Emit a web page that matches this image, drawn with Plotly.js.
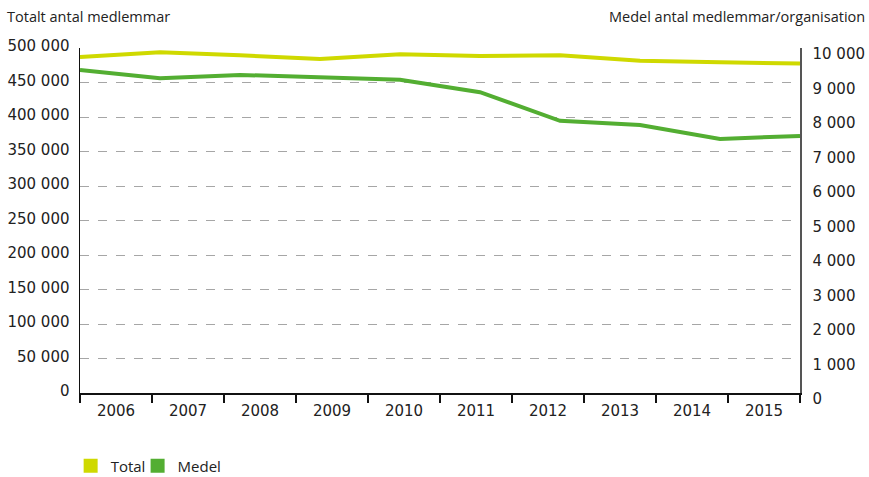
<!DOCTYPE html>
<html>
<head>
<meta charset="utf-8">
<script src="https://cdn.plot.ly/plotly-3.0.1.min.js"></script>
<style>
  html, body { margin: 0; padding: 0; background: #fff; }
  #chart { width: 869px; height: 477px; }
</style>
</head>
<body>
<div id="chart"></div>
<script>
const years = [2006, 2007, 2008, 2009, 2010, 2011, 2012, 2013, 2014, 2015];
const totalMembers = [487000, 494000, 489500, 484000, 491000, 488500, 489500, 481500, 479300, 477500];
const avgMembers = [9360, 9125, 9220, 9145, 9080, 8720, 7890, 7770, 7365, 7450];
const seriesNames = ['Total', 'Medel'];
const leftTitle = 'Totalt antal medlemmar';
const rightTitle = 'Medel antal medlemmar/organisation';

const yellow = '#cfd900';
const green = '#53ae32';
const FONT = 'Open Sans, sans-serif';
const TICKFONT = 'DejaVu Sans, sans-serif';
const txt = '#222';

const n = years.length;
const span = years[n - 1] - years[0];
const band = span / n;
const centers = years.map((y, i) => years[0] + (i + 0.5) * band);
const bounds = Array.from({length: n + 1}, (_, i) => years[0] + i * band);

const traces = [
  { x: years, y: totalMembers, type: 'scatter', mode: 'lines', name: seriesNames[0],
    line: {color: yellow, width: 4}, yaxis: 'y', showlegend: false, hoverinfo: 'skip' },
  { x: years, y: avgMembers, type: 'scatter', mode: 'lines', name: seriesNames[1],
    line: {color: green, width: 4}, yaxis: 'y2', showlegend: false, hoverinfo: 'skip' },
  { x: [null], y: [null], type: 'scatter', mode: 'markers', name: seriesNames[0],
    marker: {symbol: 'square', size: 14, color: yellow}, showlegend: true, legend: 'legend' },
  { x: [null], y: [null], type: 'scatter', mode: 'markers', name: seriesNames[1],
    marker: {symbol: 'square', size: 14, color: green}, showlegend: true, legend: 'legend2' }
];

const legendBase = {orientation: 'h', xanchor: 'left', xref: 'paper',
  yref: 'container', y: 0.023, yanchor: 'middle', itemwidth: 30,
  bgcolor: 'rgba(0,0,0,0)', font: {family: FONT, size: 15, color: txt}};

const layout = {
  width: 869, height: 477,
  margin: {l: 80, r: 69, t: 48, b: 84},
  paper_bgcolor: '#fff', plot_bgcolor: '#fff',
  separators: ', ',
  font: {family: FONT, size: 15, color: txt},
  showlegend: true,
  legend: Object.assign({}, legendBase, {x: -0.013}),
  legend2: Object.assign({}, legendBase, {x: 0.08}),
  xaxis: {
    type: 'linear', range: [years[0], years[n - 1]],
    tickmode: 'array', tickvals: centers, ticktext: years.map(String),
    ticks: '', showgrid: false, zeroline: false,
    showline: true, linecolor: '#111', linewidth: 1.5,
    ticklabelstandoff: 3,
    tickfont: {family: TICKFONT, size: 15, color: txt},
    minor: {tickmode: 'array', tickvals: bounds, ticks: 'outside', ticklen: 8,
            tickcolor: '#111', tickwidth: 1.5, showgrid: false}
  },
  yaxis: {
    range: [0, 500000], dtick: 50000, tick0: 0, tickformat: ',d',
    showgrid: true, gridcolor: '#a6a6a6', griddash: 'dash', gridwidth: 1,
    zeroline: false, showline: true, linecolor: '#111', linewidth: 1.5,
    ticks: '', ticklabelstandoff: 6, ticklabelshift: -2,
    tickfont: {family: TICKFONT, size: 15, color: txt}
  },
  yaxis2: {
    overlaying: 'y', side: 'right',
    range: [0, 10000], dtick: 1000, tick0: 0, tickformat: ',d',
    showgrid: false, zeroline: false, showline: true, linecolor: '#555', linewidth: 1.5,
    ticks: '', ticklabelstandoff: 8, ticklabelshift: 6,
    tickfont: {family: TICKFONT, size: 15, color: txt}
  },
  annotations: [
    {text: leftTitle, xref: 'paper', yref: 'paper', x: -0.104, y: 1.09,
     xanchor: 'left', yanchor: 'middle', showarrow: false,
     font: {family: FONT, size: 14.5, color: txt}},
    {text: rightTitle, xref: 'paper', yref: 'paper', x: 1.093, y: 1.09,
     xanchor: 'right', yanchor: 'middle', showarrow: false,
     font: {family: FONT, size: 14.5, color: txt}}
  ]
};

Plotly.newPlot('chart', traces, layout, {staticPlot: true, displayModeBar: false});
</script>
</body>
</html>
